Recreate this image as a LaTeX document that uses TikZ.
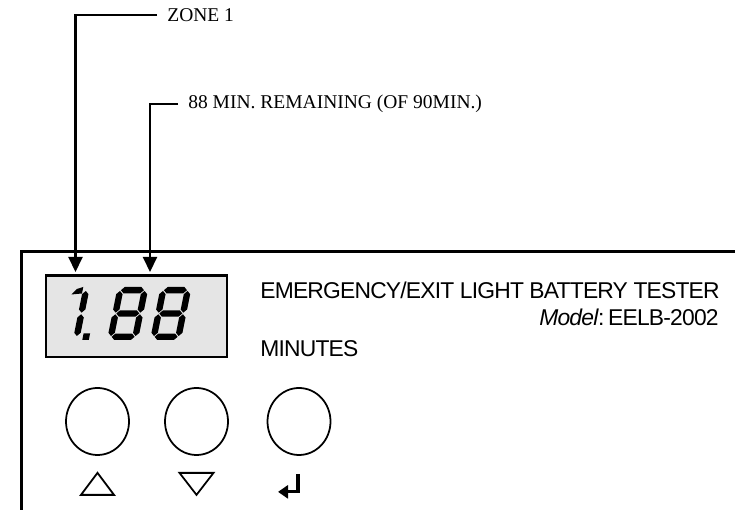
\documentclass[tikz,border=0pt]{standalone}
\usepackage{fontspec}
\setmainfont{Liberation Serif}
\newfontfamily\panelfont[LetterSpace=-3.5]{Liberation Sans}
\usetikzlibrary{positioning,arrows.meta,shapes.geometric}

% one LCD segment, pointed at both ends
\newcommand{\hseg}[3]{\fill (#1,#3) -- (#1+3.2,#3+3.2) -- (#2-3.2,#3+3.2) -- (#2,#3) -- (#2-3.2,#3-3.2) -- (#1+3.2,#3-3.2) -- cycle;}
\newcommand{\vseg}[3]{\fill (#1,#2) -- (#1+3.2,#2+3.2) -- (#1+3.2,#3-3.2) -- (#1,#3) -- (#1-3.2,#3-3.2) -- (#1-3.2,#2+3.2) -- cycle;}
\newcommand{\lcdeight}{%
  \hseg{4}{27}{49.8}\vseg{27.8}{27.3}{49}\vseg{27.8}{4}{25.7}%
  \hseg{4}{27}{3.2}\vseg{3.2}{4}{25.7}\vseg{3.2}{27.3}{49}%
  \hseg{4}{27}{26.5}}

\begin{document}
\begin{tikzpicture}[>={Triangle[length=.3cm,width=.28cm]},
  callout/.style={anchor=west,inner xsep=.2cm,inner ysep=0pt,font=\fontsize{11.1}{13}\selectfont},
  paneltext/.style={inner sep=0pt,font=\panelfont\fontsize{13}{15}\selectfont},
  button/.style={draw,ellipse,line width=1pt,inner sep=0pt,minimum width=1.26cm,minimum height=1.34cm},
  keysym/.style={line width=1pt,line join=miter}]
\useasboundingbox (0,0) rectangle (14.7,10.2);
% panel and display
\draw[line width=1.4pt] (14.7,5.17) -- (0.43,5.17) -- (0.43,0);
\draw[line width=1.4pt,fill=black!10] (0.92,3.06) rectangle (4.54,4.69);
% digits 1.88
\begin{scope}[shift={(0.965,3.4)},x=0.02cm,y=0.02cm,xslant=0.2]
\vseg{27.8}{27.3}{49}\vseg{27.8}{4}{25.7}
\fill (14,45.5) -- (18.5,51) -- (24.4,53) -- (24.4,46.5) -- cycle;
\fill (34,0) rectangle (40.5,6.5);
\end{scope}
\begin{scope}[shift={(2.14,3.4)},x=0.02cm,y=0.02cm,xslant=0.2]
\lcdeight
\end{scope}
\begin{scope}[shift={(3.0,3.4)},x=0.02cm,y=0.02cm,xslant=0.2]
\lcdeight
\end{scope}
% labels above
\node[callout] (zone) at (3.14,9.9) {ZONE 1};
\node[callout] (remain) at (3.56,8.12) {88 MIN. REMAINING (OF 90MIN.)};
\coordinate (zonetip) at (1.51,4.76);
\coordinate (remaintip) at (3.0,4.76);
\draw[->,line width=1.2pt] (zone.west) -| (zonetip);
\draw[->,line width=1.2pt] (remain.west) -| (remaintip);
% panel texts
\node[paneltext,anchor=base west] (title) at (5.2,4.22) {EMERGENCY/EXIT LIGHT BATTERY TESTER};
\node[paneltext,anchor=base east] (model) at (14.38,3.68) {\textit{Model}:\,EELB-2002};
\node[paneltext,anchor=base west] (unit) at (5.2,3.06) {MINUTES};
% keys
\node[button] (upkey) at (1.95,1.77) {};
\node[button] (downkey) at (3.93,1.77) {};
\node[button] (enterkey) at (5.98,1.77) {};
\draw[keysym] ([xshift=-.33cm,yshift=-.78cm]upkey.south) -- ++(.66,0) -- ++(-.33,.44) -- cycle;
\draw[keysym] ([xshift=-.34cm,yshift=-.34cm]downkey.south) -- ++(.68,0) -- ++(-.34,-.44) -- cycle;
\draw[-{Triangle[length=.2cm,width=.26cm]},line width=1.8pt] ([xshift=-.02cm,yshift=-.36cm]enterkey.south) -- ++(0,-.36) -- ++(-.4,0);
\end{tikzpicture}
\end{document}
